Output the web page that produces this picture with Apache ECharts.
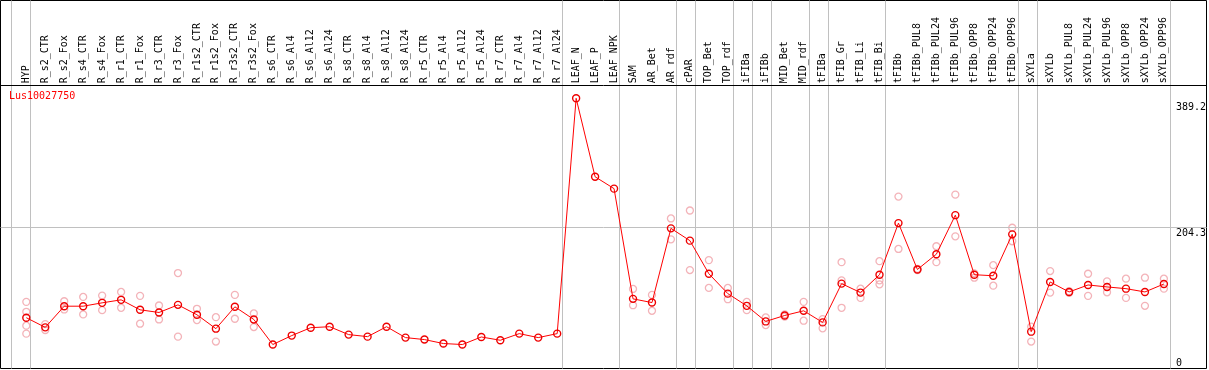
<!DOCTYPE html>
<html>
<head>
<meta charset="utf-8">
<script src="https://cdn.jsdelivr.net/npm/echarts@6/dist/echarts.min.js"></script>
<style>html,body{margin:0;padding:0;background:#fff}#c{width:1209px;height:370px}</style>
</head>
<body>
<div id="c"></div>
<script>
const geneName = 'Lus10027750';
const categories = ['HYP','R_s2_CTR','R_s2_Fox','R_s4_CTR','R_s4_Fox','R_r1_CTR','R_r1_Fox','R_r3_CTR','R_r3_Fox','R_r1s2_CTR','R_r1s2_Fox','R_r3s2_CTR','R_r3s2_Fox','R_s6_CTR','R_s6_Al4','R_s6_Al12','R_s6_Al24','R_s8_CTR','R_s8_Al4','R_s8_Al12','R_s8_Al24','R_r5_CTR','R_r5_Al4','R_r5_Al12','R_r5_Al24','R_r7_CTR','R_r7_Al4','R_r7_Al12','R_r7_Al24','LEAF_N','LEAF_P','LEAF_NPK','SAM','AR_Bet','AR_rdf','cPAR','TOP_Bet','TOP_rdf','iFIBa','iFIBb','MID_Bet','MID_rdf','tFIBa','tFIB_Gr','tFIB_Li','tFIB_Bi','tFIBb','tFIBb_PUL8','tFIBb_PUL24','tFIBb_PUL96','tFIBb_OPP8','tFIBb_OPP24','tFIBb_OPP96','sXYLa','sXYLb','sXYLb_PUL8','sXYLb_PUL24','sXYLb_PUL96','sXYLb_OPP8','sXYLb_OPP24','sXYLb_OPP96'];
const meanValues = [74.9,61.1,91.4,91.4,96.2,100.5,86.2,82.4,93.3,79.1,59.2,90.5,72.4,36.5,49.3,60.6,62.0,50.7,47.8,62.0,46.4,43.6,37.9,36.5,47.3,42.6,52.1,46.4,52.1,389.2,276.8,259.8,101.9,96.6,202.9,185.3,137.9,109.4,91.9,69.6,78.1,84.8,68.2,123.7,110.9,136.5,210.4,144.0,165.9,221.8,136.5,135.0,194.3,54.9,126.1,111.8,121.8,119.0,116.5,111.8,123.2];
const replicateValues = [
 [97.6,83.4,63.5,52.1],[65.8,57.3],[98.5,86.7],[104.7,79.6],[106.6,85.7],[111.8,89.1],[106.2,66.3],[92.4,72.4],[138.9,47.8],[87.7,71.5],[75.7,40.7],[107.6,73.4],[81.0,61.5],
 [],[],[],[],[],[],[],[],[],[],[],[],[],[],[],[],[],[],[],
 [116.1,92.8],[107.6,84.8],[217.1,187.2],[228.5,143.1],[157.4,117.6],[117.6,101.4],[97.6,85.7],[75.3,64.4],[79.5,76.5],[97.6,70.6],[72.9,59.7],[154.5,128.4,89.1],[116.5,103.3],[155.9,128.4,122.7],[248.4,173.4],[145.0,143.0],[177.3,154.5],[251.2,191.5],[132.2,138.5],[150.2,120.8],[203.8,184.4],[62.0,40.7],[141.7,110.9],[113.0,110.5],[137.9,106.2],[127.0,111.3],[130.8,103.3],[132.2,91.9],[130.8,116.5]
];
const yTickValues = [0, 204.3, 389.2];
const yMax = 389.2;
const gridLineValue = 204.3;
const groupEndIndices = [-1,0,28,31,34,35,37,38,39,41,42,45,52,53,60];

const replicatePoints = [];
replicateValues.forEach((arr, i) => arr.forEach(v => replicatePoints.push([i, v])));

const MONO = 'DejaVu Sans Mono';
const L0 = 26.3, STEP = 19, N = categories.length;
const gridLeft = 0.5, gridW = 1206;

const chart = echarts.init(document.getElementById('c'), null, {renderer: 'canvas'});
const lineStyleGray = {type: 'solid', color: '#c0c0c0', width: 1};
chart.setOption({
  animation: false,
  title: {text: geneName, left: 9, top: 91, padding: 0,
    textStyle: {color: '#ff0000', fontSize: 10, fontFamily: MONO, fontWeight: 'normal'}},
  grid: [
    {left: L0, width: STEP * (N - 1), top: 98.3, height: 273.64},
    {left: gridLeft, top: 0.5, width: gridW, height: 368, show: true, borderColor: '#000', borderWidth: 1, backgroundColor: 'transparent'},
    {left: gridLeft, top: 98.3, width: gridW, height: 273.64}
  ],
  xAxis: [
    {type: 'category', gridIndex: 0, data: categories, position: 'top', boundaryGap: false,
      axisLine: {show: false}, axisTick: {show: false}, splitLine: {show: false},
      axisLabel: {interval: 0, rotate: 90, margin: 15, fontFamily: MONO, fontSize: 10, color: '#000'}},
    {type: 'value', gridIndex: 1, show: false, min: (gridLeft - L0) / STEP, max: (gridLeft + gridW - L0) / STEP, splitLine: {show: false}},
    {type: 'value', gridIndex: 2, show: false, min: 0, max: 1, splitLine: {show: false}}
  ],
  yAxis: [
    {type: 'value', gridIndex: 0, position: 'right', min: 0, max: yMax,
      axisLine: {show: false}, axisTick: {show: false}, splitLine: {show: false},
      axisLabel: {customValues: yTickValues, margin: 12, align: 'left', fontFamily: MONO, fontSize: 10, color: '#000',
        formatter: v => {
          const key = v >= yMax ? 'top' : (v > 0 ? 'mid' : 'bot');
          return '{' + key + '|' + v + '}';
        },
        rich: {
          top: {padding: [19, 0, 0, 0], fontFamily: MONO, fontSize: 10, color: '#000'},
          mid: {padding: [13, 0, 0, 0], fontFamily: MONO, fontSize: 10, color: '#000'},
          bot: {padding: [0, 0, 14, 0], fontFamily: MONO, fontSize: 10, color: '#000'}
        }}},
    {type: 'value', gridIndex: 1, show: false, min: 0, max: 368, inverse: true, splitLine: {show: false}},
    {type: 'value', gridIndex: 2, show: false, min: 0, max: yMax, splitLine: {show: false}}
  ],
  series: [
    {type: 'line', xAxisIndex: 1, yAxisIndex: 1, data: [], silent: true,
      markLine: {silent: true, symbol: 'none', label: {show: false}, lineStyle: lineStyleGray,
        data: groupEndIndices.map(i => ({xAxis: i + 0.22}))}},
    {type: 'line', xAxisIndex: 1, yAxisIndex: 1, data: [], silent: true,
      markLine: {silent: true, symbol: 'none', label: {show: false}, lineStyle: {type: 'solid', color: '#000', width: 1},
        data: [{yAxis: 85}]}},
    {type: 'line', xAxisIndex: 2, yAxisIndex: 2, data: [], silent: true,
      markLine: {silent: true, symbol: 'none', label: {show: false}, lineStyle: lineStyleGray,
        data: [{yAxis: gridLineValue}]}},
    {type: 'scatter', xAxisIndex: 0, yAxisIndex: 0, data: replicatePoints, symbol: 'circle', symbolSize: 7, z: 3,
      itemStyle: {color: 'rgba(0,0,0,0)', borderColor: '#f0a0a8', borderWidth: 1.3}},
    {type: 'line', xAxisIndex: 0, yAxisIndex: 0, data: meanValues, symbol: 'circle', symbolSize: 7, z: 5,
      lineStyle: {color: '#ff0000', width: 1},
      itemStyle: {color: 'rgba(0,0,0,0)', borderColor: '#ee0000', borderWidth: 1.4}}
  ]
});
</script>
</body>
</html>
